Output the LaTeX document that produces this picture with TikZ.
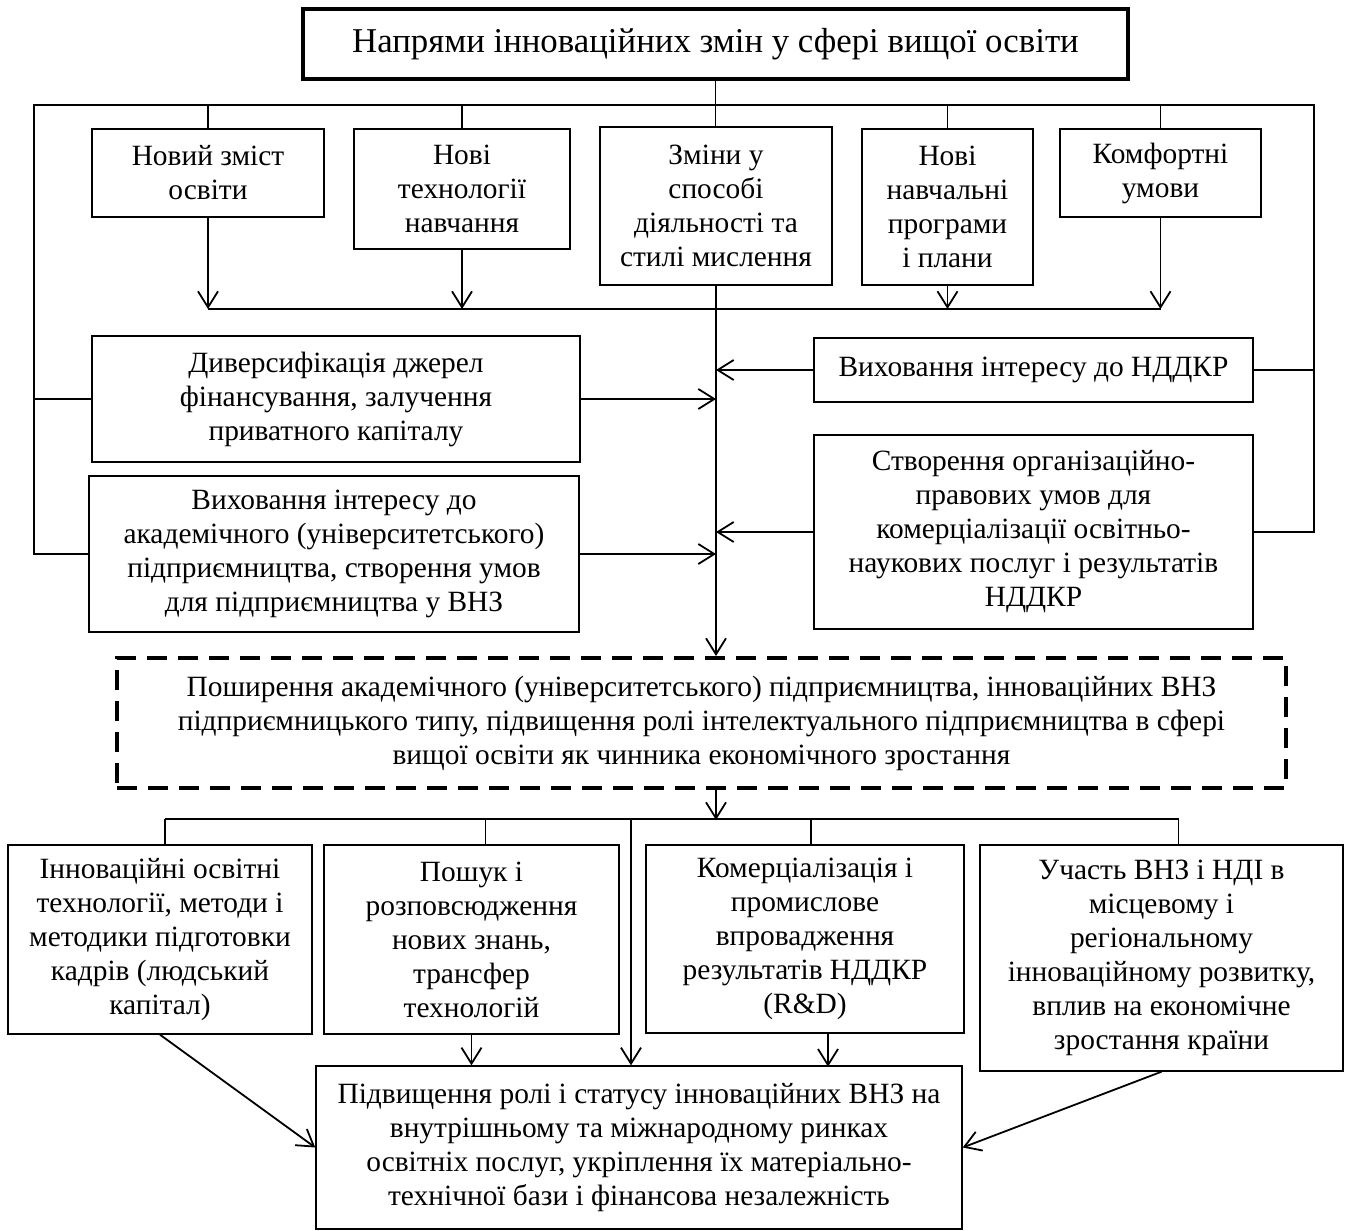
\documentclass[tikz,border=0pt]{standalone}
\usepackage{fontspec}
\setmainfont{Liberation Serif}
\usetikzlibrary{arrows.meta, calc}

\begin{document}
\begin{tikzpicture}[
    x=0.5pt, y=-0.5pt,
    % Rahmen der Bloecke
    box/.style={draw, line width=0.7pt, align=center, inner sep=0pt,
                font=\fontsize{14.7}{17}\selectfont},
    sz/.style 2 args={minimum width=#1*0.5pt, minimum height=#2*0.5pt},
    % Verbindungen
    line/.style={line width=0.9pt},
    arr/.style={line, -{Straight Barb[length=8pt, width=10pt]}}
]
\useasboundingbox (0,0) rectangle (1350,1231);

% --- TITEL ---
\node[box, line width=2pt, sz={825}{70}, font=\fontsize{17.4}{20}\selectfont] (title) at (715.5,44)
    {Напрями інноваційних змін у сфері вищої освіти};

% --- ERSTE REIHE ---
\node[box, sz={232}{88}]  (B1) at (208,173)    {Новий зміст\\освіти};
\node[box, sz={216}{120}] (B2) at (462,189)    {Нові\\технології\\навчання};
\node[box, sz={232}{158}] (B3) at (716,206)    {Зміни у\\способі\\діяльності та\\стилі мислення};
\node[box, sz={171}{156}] (B4) at (947.5,207)  {Нові\\навчальні\\програми\\і плани};
\node[box, sz={201}{88}]  (B5) at (1160.5,173) {Комфортні\\умови};

% --- ZWEITE REIHE ---
\node[box, sz={488}{126}] (L1) at (336,399)
    {Диверсифікація джерел\\фінансування, залучення\\приватного капіталу};
\node[box, sz={490}{156}] (L2) at (334,554)
    {Виховання інтересу до\\академічного (університетського)\\підприємництва, створення умов\\для підприємництва у ВНЗ};
\node[box, sz={439}{64}]  (R1) at (1033.5,370) {Виховання інтересу до НДДКР};
\node[box, sz={439}{194}] (R2) at (1033.5,532)
    {Створення організаційно-\\правових умов для\\комерціалізації освітньо-\\наукових послуг і результатів\\НДДКР};

% --- MITTE (gestrichelt) ---
\node[box, line width=2pt, dash pattern=on 10pt off 5.5pt, sz={1169}{130}] (dash) at (701.5,723)
    {Поширення академічного (університетського) підприємництва, інноваційних ВНЗ\\підприємницького типу, підвищення ролі інтелектуального підприємництва в сфері\\вищої освіти як чинника економічного зростання};

% --- DRITTE REIHE ---
\node[box, sz={304}{189}] (D1) at (160,939.5)
    {Інноваційні освітні\\технології, методи і\\методики підготовки\\кадрів (людський\\капітал)};
\node[box, sz={295}{189}] (D2) at (471.5,939.5)
    {Пошук і\\розповсюдження\\нових знань,\\трансфер\\технологій};
\node[box, sz={318}{188}] (D3) at (805,939)
    {Комерціалізація і\\промислове\\впровадження\\результатів НДДКР\\(R\&D)};
\node[box, sz={363}{226}] (D4) at (1161.5,958)
    {Участь ВНЗ і НДІ в\\місцевому і\\регіональному\\інноваційному розвитку,\\вплив на економічне\\зростання країни};

% --- UNTEN ---
\node[box, sz={646}{163}] (F) at (639,1147.5)
    {Підвищення ролі і статусу інноваційних ВНЗ на\\внутрішньому та міжнародному ринках\\освітніх послуг, укріплення їх матеріально-\\технічної бази і фінансова незалежність};

% Hilfspunkte
\coordinate (tl) at (34,105);
\coordinate (tr) at (1314,105);
\coordinate (jn) at (716,309);
\coordinate (bb) at (716,820);
\coordinate (vx) at (631,820);

% oberer Rahmen
\draw[line] (title.south) -- (title.south |- B3.north);
\draw[line] (L2.west) -| (tl) -- (tr) |- (R2.east);
\draw[line] (L1.west) -- (L1.west -| tl);
\draw[line] (R1.east) -- (R1.east -| tr);
\foreach \n in {B1,B2,B4,B5} {
    \draw[line] (\n.north) -- (\n.north |- tl);
    \draw[arr] (\n.south) -- (\n.south |- jn);
}
\draw[line] (B1.south |- jn) -- (B5.south |- jn);

% Hauptlinie
\draw[arr] (B3.south) -- (B3.south |- dash.north);
\foreach \n in {L1,L2} \draw[arr] (\n.east) -- (\n.east -| B3.south);
\foreach \n in {R1,R2} \draw[arr] (\n.west) -- (\n.west -| B3.south);

% unterer Verteiler
\draw[arr] (dash.south -| B3.south) -- (B3.south |- bb);
\draw[line] ($(D1.north)+(5,-25)$) -- ($(D4.north)+(17,-25)$);
\foreach \n/\s in {D1/5,D2/14,D3/6,D4/17}
    \draw[line] ($(\n.north)+(\s,0)$) -- ++(0,-25);

% zum Ergebnis
\draw[arr] (vx) -- (vx |- F.north);
\draw[arr] (D2.south) -- (D2.south |- F.north);
\draw[arr] ($(D3.south)+(23,0)$) -- ++(0,33);
\draw[arr] (D1.south) -- (F.west);
\draw[arr] (D4.south) -- (F.east);

\end{tikzpicture}
\end{document}
